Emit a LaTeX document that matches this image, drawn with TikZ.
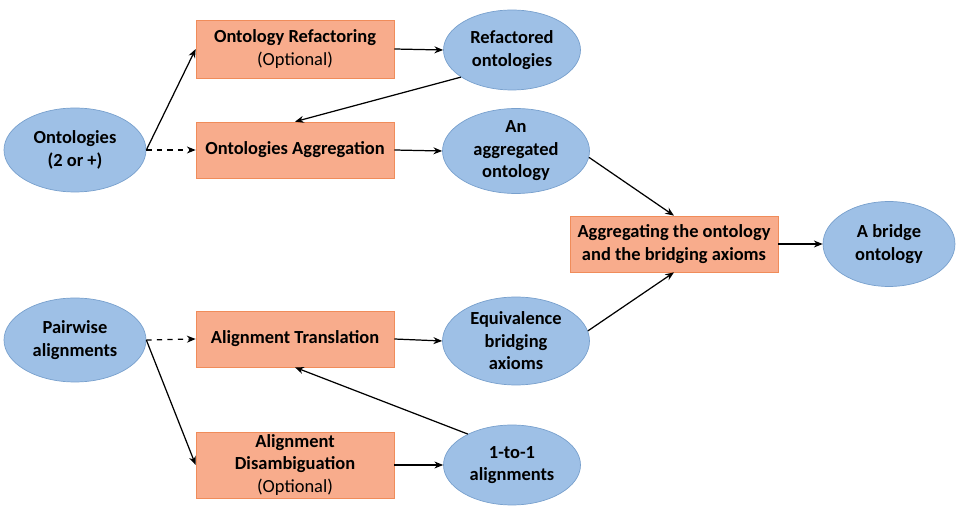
\documentclass[tikz,border=0pt]{standalone}
\usepackage{fontspec}
\setmainfont{Carlito}
\usetikzlibrary{shapes.geometric,arrows.meta}
\definecolor{ellfill}{RGB}{158,192,230}
\definecolor{elldraw}{RGB}{120,160,205}
\definecolor{boxfill}{RGB}{248,172,140}
\definecolor{boxdraw}{RGB}{240,140,90}
\begin{document}
\begin{tikzpicture}[x=0.02cm,y=-0.02cm,
  blob/.style={draw=elldraw,fill=ellfill,ellipse,inner sep=0pt,align=center,font=\fontsize{10.5}{12.8}\selectfont\bfseries},
  stepbox/.style={draw=boxdraw,fill=boxfill,rectangle,inner sep=0pt,minimum width=3.96cm,minimum height=1.12cm,align=center,font=\fontsize{10.5}{12.8}\selectfont\bfseries},
  arr/.style={draw,line width=0.7pt,-{Stealth[length=5pt,width=4pt]}}]
\useasboundingbox (0,0) rectangle (961,506);
\node[blob,minimum width=2.84cm,minimum height=1.68cm] (onto) at (75,150) {Ontologies\\(2 or +)};
\node[blob,minimum width=2.84cm,minimum height=1.68cm] (pair) at (75,340) {Pairwise\\alignments};

\node[stepbox,minimum height=1.16cm] (refac) at (295,49) {Ontology Refactoring\\\mdseries(Optional)};
\node[stepbox] (aggr) at (295,150) {Ontologies Aggregation};
\node[stepbox] (trans) at (295,339) {Alignment Translation};
\node[stepbox,minimum height=1.32cm] (disamb) at (295,465) {Alignment\\Disambiguation\\\mdseries(Optional)};

\node[blob,minimum width=2.74cm,minimum height=1.6cm] (refd) at (512,50) {Refactored\\ontologies};
\node[blob,minimum width=2.94cm,minimum height=1.7cm] (aggd) at (516,151) {An\\aggregated\\ontology};
\node[blob,minimum width=2.94cm,minimum height=1.76cm] (equiv) at (516,341) {Equivalence\\bridging\\axioms};
\node[blob,minimum width=2.74cm,minimum height=1.6cm] (one) at (512,465) {1-to-1\\alignments};

\node[stepbox,minimum width=4.16cm] (bridgebox) at (674,244) {Aggregating the ontology\\and the bridging axioms};
\node[blob,minimum width=2.64cm,minimum height=1.7cm] (bridge) at (889,244) {A bridge\\ontology};

\path[arr] (onto.east) -- (refac.west);
\path[arr,dashed] (onto.east) -- (aggr.west);
\path[arr] (refac.east) -- (refd.west);
\path[arr] (refd.208) -- (aggr.north);
\path[arr] (aggr.east) -- (aggd.west);
\path[arr] (aggd.-5) -- (bridgebox.north);

\path[arr,dashed] (pair.east) -- (trans.west);
\path[arr] (pair.east) -- (disamb.west);
\path[arr] (trans.east) -- (equiv.west);
\path[arr] (disamb.east) -- (one.west);
\path[arr] (one.145) -- (trans.south);
\path[arr] (equiv.8) -- (bridgebox.south);
\path[arr] (bridgebox.east) -- (bridge.west);
\end{tikzpicture}
\end{document}
